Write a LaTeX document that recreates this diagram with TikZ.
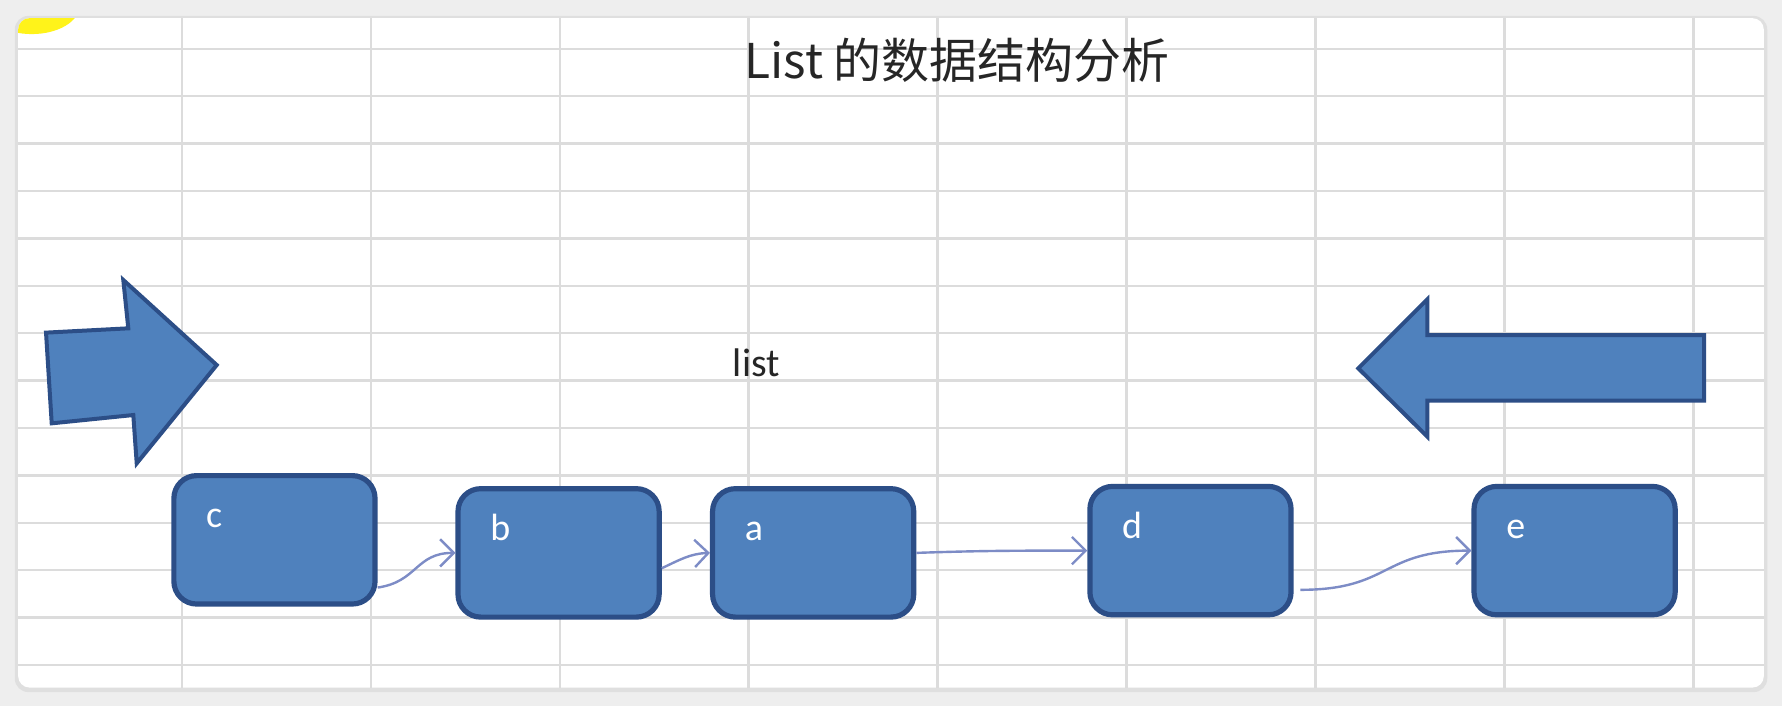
\documentclass[tikz,border=0pt]{standalone}
\usepackage{fontspec}
\usepackage{xcolor}
\usetikzlibrary{arrows.meta}
\newfontfamily\cjkfont{Noto Sans CJK SC}
\newfontfamily\calfont{Carlito}
\definecolor{boxfill}{RGB}{79,129,189}
\definecolor{boxline}{RGB}{44,78,135}
\definecolor{linkcol}{RGB}{125,140,198}
\definecolor{gridcol}{RGB}{220,220,220}
\definecolor{pagebg}{RGB}{238,238,238}

\begin{document}
\begin{tikzpicture}[every node/.style={font=\calfont},
  listbox/.style={rectangle, draw=boxline, line width=1.3pt, fill=boxfill, rounded corners=0.2cm,
    minimum width=1.77cm, minimum height=1.13cm, inner sep=0pt},
  boxlabel/.style={anchor=base west, inner sep=0pt, text=white, font=\calfont\fontsize{9.5}{9.5}\selectfont,
    xshift=0.3cm, yshift=-0.48cm},
  blockarrow/.style={draw=boxline, line width=1pt, fill=boxfill, line join=miter},
  link/.style={-{Straight Barb[length=1.2mm,width=2.4mm]}, draw=linkcol, line width=0.6pt}]
  % Page and card
  \fill[pagebg] (0,0) rectangle (15.68,6.21);
  \fill[gray!25, rounded corners=0.12cm] (0.13,0.12) rectangle (15.55,6.07);
  \fill[white, rounded corners=0.1cm] (0.16,0.16) rectangle (15.52,6.05);
  \useasboundingbox (0,0) rectangle (15.68,6.21);
  \begin{scope}
    \clip[rounded corners=0.1cm] (0.16,0.16) rectangle (15.52,6.05);
    \fill[yellow!90] (0.28,6.16) ellipse (0.42cm and 0.25cm);
  \end{scope}
  
  % Sheet grid
  \foreach \gx in {0,...,8}
    \draw[gridcol, line width=0.6pt] ({1.6+1.6625*\gx},0.16) -- ({1.6+1.6625*\gx},6.05);
  \foreach \gy in {0,...,13}
    \draw[gridcol, line width=0.6pt] (0.16,{5.78-0.417*\gy}) -- (15.52,{5.78-0.417*\gy});
  
  % Titles
  \node[font=\cjkfont\fontsize{12}{12}\selectfont, anchor=base, text=black!85] (title) at (8.42,5.52) {List 的数据结构分析};
  \node[font=\calfont\fontsize{10}{10}\selectfont, anchor=base, text=black!85] (listname) at (6.655,2.895) {list};
  
  % Big arrows
  \draw[blockarrow] (0.405,3.283) -- (1.129,3.321) -- (1.085,3.746) -- (1.907,2.998)
    -- (1.203,2.133) -- (1.173,2.558) -- (0.455,2.485) -- cycle;
  \draw[blockarrow] (11.952,2.969) -- (12.559,3.576) -- (12.559,3.262) -- (14.994,3.262)
    -- (14.994,2.684) -- (12.559,2.684) -- (12.559,2.368) -- cycle;
  
  % List elements
  \node[listbox, label={[boxlabel]north west:c}] (c) at (2.415,1.46) {};
  \node[listbox, label={[boxlabel]north west:b}] (b) at (4.915,1.345) {};
  \node[listbox, label={[boxlabel]north west:a}] (a) at (7.155,1.345) {};
  \node[listbox, label={[boxlabel]north west:d}] (d) at (10.475,1.365) {};
  \node[listbox, label={[boxlabel]north west:e}] (e) at (13.855,1.365) {};
  
  % Links
  \draw[link] ([yshift=-0.42cm]c.east) .. controls +(0.35,0.05) and +(-0.35,0) .. (b.west);
  \draw[link] ([yshift=-0.135cm]b.east) to[out=25,in=182] (a.west);
  \draw[link] (a.east) to[out=2,in=180] (d.west);
  \draw[link] ([xshift=0.06cm,yshift=-0.345cm]d.east) .. controls +(0.8,0) and +(-0.8,0) .. (e.west);
\end{tikzpicture}
\end{document}
